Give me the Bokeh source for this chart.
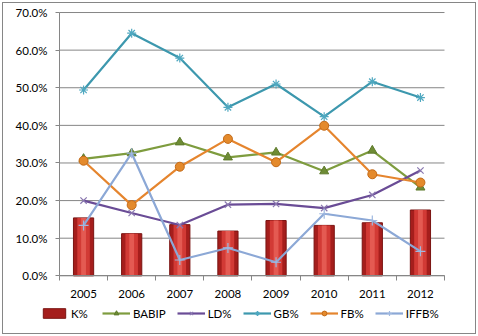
import numpy as np
from bokeh.plotting import figure
from bokeh.models import (Range1d, FixedTicker, NumeralTickFormatter, Legend, LegendItem,
                          ColumnDataSource)
from bokeh.embed import file_html
from bokeh.resources import INLINE

years = ["2005", "2006", "2007", "2008", "2009", "2010", "2011", "2012"]
k_pct = [15.4, 11.2, 13.6, 11.9, 14.7, 13.4, 14.1, 17.5]
babip = [31.1, 32.6, 35.5, 31.5, 32.8, 27.8, 33.3, 23.5]
ld_pct = [20.0, 16.7, 13.5, 18.9, 19.1, 18.0, 21.5, 28.0]
gb_pct = [49.4, 64.5, 57.9, 44.8, 51.0, 42.3, 51.6, 47.4]
fb_pct = [30.6, 18.8, 29.0, 36.4, 30.2, 39.9, 27.0, 24.8]
iffb_pct = [13.4, 32.6, 4.2, 7.4, 3.6, 16.5, 14.7, 6.5]
y_ticks = [0.0, 0.1, 0.2, 0.3, 0.4, 0.5, 0.6, 0.7]

n = len(years)
idx = np.arange(n)
src = ColumnDataSource(dict(
    x=idx,
    k=np.array(k_pct) / 100, babip=np.array(babip) / 100, ld=np.array(ld_pct) / 100,
    gb=np.array(gb_pct) / 100, fb=np.array(fb_pct) / 100, iffb=np.array(iffb_pct) / 100,
))

FONT = "Lato"
TXT = "#000000"
GRID = "#868686"

# Frame covers the whole canvas; axes are fixed inside it so the legend is not clipped.
p = figure(width=472, height=330, output_backend="svg", toolbar_location=None,
           x_range=Range1d(-1.6636, 8.1442), y_range=Range1d(-0.1534, 0.7240),
           min_border=0, margin=(3, 3, 3, 3))
p.styles = {"outline": "1px solid #868686"}
p.outline_line_color = None
p.background_fill_color = "white"
p.border_fill_color = "white"
p.xgrid.visible = False
p.ygrid.visible = False

# horizontal gridlines across the category span
p.segment(x0=-0.5, x1=n - 0.5, y0=y_ticks, y1=y_ticks, line_color=GRID, line_width=1)

# axes
xa = p.xaxis[0]
xa.fixed_location = 0
xa.bounds = (-0.5, n - 0.5)
xa.ticker = FixedTicker(ticks=list(idx), minor_ticks=list(np.arange(n + 1) - 0.5))
xa.major_label_overrides = {int(i): y for i, y in zip(idx, years)}
xa.major_tick_line_color = None
xa.major_tick_out = 0
xa.major_tick_in = 0
xa.minor_tick_line_color = GRID
xa.minor_tick_in = 0
xa.minor_tick_out = 5
xa.axis_line_color = GRID
xa.major_label_standoff = 9
xa.major_label_text_font = FONT
xa.major_label_text_font_size = "11.5px"
xa.major_label_text_color = TXT

ya = p.yaxis[0]
ya.fixed_location = -0.5
ya.bounds = (0, 0.7)
ya.ticker = FixedTicker(ticks=y_ticks, minor_ticks=[])
ya.formatter = NumeralTickFormatter(format="0.0%")
ya.major_tick_line_color = GRID
ya.major_tick_in = 0
ya.major_tick_out = 4
ya.minor_tick_line_color = None
ya.axis_line_color = GRID
ya.major_label_standoff = 8
ya.major_label_text_font = FONT
ya.major_label_text_font_size = "11.5px"
ya.major_label_text_color = TXT

# bars (K%) with a simple shaded look
bar = p.vbar(x="x", top="k", width=0.42, source=src, fill_color="#A51E1C",
             line_color="#7A1412", line_width=1)
p.vbar(x="x", top="k", width=0.26, source=src, fill_color="#D23A35", line_color=None)
p.vbar(x="x", top="k", width=0.10, source=src, fill_color="#E45A52", line_color=None)

# lines
C_BABIP = "#7E9C3E"
C_LD = "#6A4C96"
C_GB = "#3D98AE"
C_FB = "#E5852E"
C_IFFB = "#8CA8D6"
LW = 2.2

l_babip = p.line("x", "babip", source=src, line_color=C_BABIP, line_width=LW)
m_babip = p.scatter("x", "babip", source=src, marker="triangle", size=9,
                    fill_color="#6E8C35", line_color="#5E7A2C")

l_ld = p.line("x", "ld", source=src, line_color=C_LD, line_width=LW)
m_ld = p.scatter("x", "ld", source=src, marker="x", size=9, line_color="#8A78B0", line_width=1.2)

l_gb = p.line("x", "gb", source=src, line_color=C_GB, line_width=LW)
m_gb = p.scatter("x", "gb", source=src, marker="asterisk", size=9, line_color="#4FA8C0", line_width=1.2)

l_fb = p.line("x", "fb", source=src, line_color=C_FB, line_width=LW)
m_fb = p.scatter("x", "fb", source=src, marker="circle", size=9,
                 fill_color="#E48A2C", line_color="#C36A18")

l_iffb = p.line("x", "iffb", source=src, line_color=C_IFFB, line_width=LW)
m_iffb = p.scatter("x", "iffb", source=src, marker="cross", size=10, line_color="#9FB8E0", line_width=1.2)

legend = Legend(items=[
    LegendItem(label="K%", renderers=[bar]),
    LegendItem(label="BABIP", renderers=[l_babip, m_babip]),
    LegendItem(label="LD%", renderers=[l_ld, m_ld]),
    LegendItem(label="GB%", renderers=[l_gb, m_gb]),
    LegendItem(label="FB%", renderers=[l_fb, m_fb]),
    LegendItem(label="IFFB%", renderers=[l_iffb, m_iffb]),
], orientation="horizontal", location=(37, 13))
legend.label_text_font = FONT
legend.label_text_font_size = "11.5px"
legend.label_text_color = TXT
legend.glyph_width = 28
legend.glyph_height = 12
legend.label_height = 14
legend.label_standoff = 3
legend.spacing = 11
legend.padding = 0
legend.margin = 0
legend.border_line_color = None
legend.background_fill_alpha = 0
p.add_layout(legend, "center")

open("out.html", "w").write(file_html(p, INLINE))
